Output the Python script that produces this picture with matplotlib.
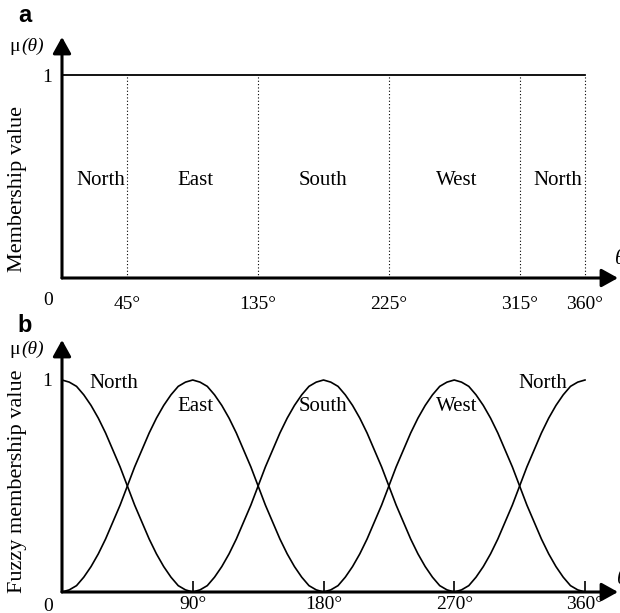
import numpy as np
import matplotlib.pyplot as plt

plt.rcParams["font.family"] = ["Liberation Serif", "DejaVu Serif"]

# panel a: crisp sectors
crisp_edges = [0, 45, 135, 225, 315, 360]
crisp_names = ["North", "East", "South", "West", "North"]
crisp_label_x = [27, 92, 180, 272, 341]
crisp_ticks = [45, 135, 225, 315, 360]
crisp_ticklabels = ["45°", "135°", "225°", "315°", "360°"]

# panel b: fuzzy sectors, rising half of one lobe read every 5 degrees
step = 5
rise = [0, 0.01, 0.03, 0.07, 0.12, 0.18, 0.25, 0.33, 0.41, 0.50,
        0.59, 0.67, 0.75, 0.82, 0.88, 0.93, 0.97, 0.99, 1.0]
fuzzy_centers = [0, 90, 180, 270, 360]
fuzzy_names = ["North", "East", "South", "West", "North"]
fuzzy_label_x = [36, 92, 180, 272, 331]
fuzzy_label_y = [0.985, 0.877, 0.877, 0.877, 0.985]
fuzzy_ticks = [90, 180, 270, 360]
fuzzy_ticklabels = ["90°", "180°", "270°", "360°"]

W, H = 620, 613
fig = plt.figure(figsize=(W / 100, H / 100), dpi=100)

x_max = 360 * (618 - 62) / (585 - 62)
ax_a = fig.add_axes([62 / W, 1 - 278 / H, (618 - 62) / W, (278 - 37) / H])
ax_b = fig.add_axes([62 / W, 1 - 592 / H, (618 - 62) / W, (592 - 340) / H])
ax_a.set_ylim(0, (278 - 37) / 203)
ax_b.set_ylim(0, (592 - 340) / 212)

for ax, zero_dy in ((ax_a, -10), (ax_b, -4)):
    ax.set_xlim(0, x_max)
    for s in ax.spines.values():
        s.set_visible(False)
    arrow = dict(arrowstyle="-|>,head_length=0.45,head_width=0.25",
                 mutation_scale=22, lw=2.2, color="k", shrinkA=0, shrinkB=0)
    ax.annotate("", xy=(0, 1), xytext=(0, 0), xycoords="axes fraction",
                arrowprops=arrow, annotation_clip=False)
    ax.annotate("", xy=(1, 0), xytext=(0, 0), xycoords="axes fraction",
                arrowprops=arrow, annotation_clip=False)
    ax.set_yticks([1])
    ax.set_yticklabels(["1"])
    ax.tick_params(axis="y", length=0, pad=7, labelsize=14)
    ax.annotate("0", xy=(0, 0), xycoords="data", xytext=(-10, zero_dy),
                textcoords="offset points", ha="center", va="top", fontsize=14)
    # mu(theta) label near the top of the y arrow
    ax.annotate("μ", xy=(0, 1), xycoords="axes fraction", xytext=(-34, -7),
                textcoords="offset points", ha="center", va="center", fontsize=14)
    ax.annotate("(θ)", xy=(0, 1), xycoords="axes fraction", xytext=(-21, -7),
                textcoords="offset points", ha="center", va="center",
                fontsize=14, style="italic")

# ---- panel a
ax_a.plot([crisp_edges[0], crisp_edges[-1]], [1, 1], color="k", lw=1.3)
for e in crisp_edges[1:]:
    ax_a.plot([e, e], [0, 1], color="k", lw=0.8, ls=(0, (1, 2)))
for name, xl in zip(crisp_names, crisp_label_x):
    ax_a.text(xl, 0.48, name, ha="center", va="center", fontsize=15)
ax_a.set_xticks(crisp_ticks)
ax_a.set_xticklabels(crisp_ticklabels)
ax_a.tick_params(axis="x", length=0, pad=13, labelsize=14)
ax_a.set_ylabel("Membership value", fontsize=16)
ax_a.yaxis.set_label_coords(-0.063, 0.369)
ax_a.annotate("θ", xy=(1, 0), xycoords="axes fraction", xytext=(-2, 13),
              textcoords="offset points", ha="left", va="center",
              fontsize=15, style="italic", annotation_clip=False)
ax_a.text(-0.079, 1.062, "a", transform=ax_a.transAxes, fontsize=17,
          fontweight="bold", family="Liberation Sans", ha="left", va="baseline")

# ---- panel b
bump = np.array(rise + rise[::-1][1:])
offs = np.arange(len(bump)) * step - 90
for c in fuzzy_centers:
    xs = c + offs
    keep = (xs >= 0) & (xs <= 360)
    ax_b.plot(xs[keep], bump[keep], color="k", lw=1.2, clip_on=False)
for name, xl, yl in zip(fuzzy_names, fuzzy_label_x, fuzzy_label_y):
    ax_b.text(xl, yl, name, ha="center", va="center", fontsize=15)
ax_b.set_xticks(fuzzy_ticks)
ax_b.set_xticklabels(fuzzy_ticklabels)
ax_b.tick_params(axis="x", direction="in", length=8, width=1.2, pad=3,
                 labelsize=14)
ax_b.set_ylabel("Fuzzy membership value", fontsize=16)
ax_b.yaxis.set_label_coords(-0.063, 0.44)
ax_b.annotate("θ", xy=(1, 0), xycoords="axes fraction", xytext=(-1, 9),
              textcoords="offset points", ha="left", va="center",
              fontsize=15, style="italic", annotation_clip=False)
ax_b.text(-0.08, 1.032, "b", transform=ax_b.transAxes, fontsize=17,
          fontweight="bold", family="Liberation Sans", ha="left", va="baseline")

fig.savefig("out.png", dpi=100)
